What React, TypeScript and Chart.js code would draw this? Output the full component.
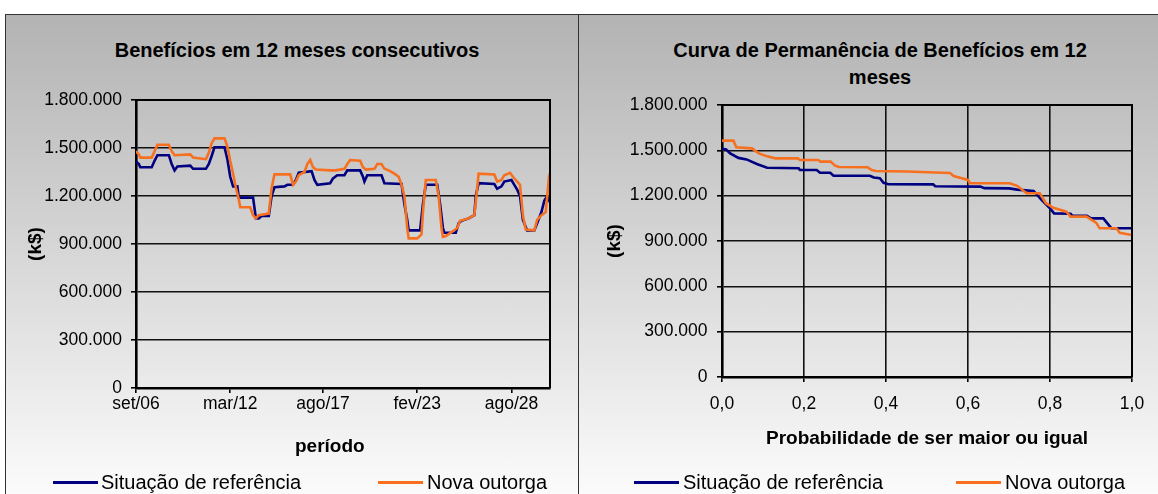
import React, { useEffect, useRef } from 'react';
import { Chart, registerables } from 'chart.js';

Chart.register(...registerables);

const FONT = '"Liberation Sans", Arial, Helvetica, sans-serif';

// ---------- Left chart: Benefícios em 12 meses consecutivos ----------
const periodTickMonths = [0, 66, 131, 197, 263];
const periodTickLabels = ['set/06', 'mar/12', 'ago/17', 'fev/23', 'ago/28'];
const periodLastMonth = 290;

const refMonths = [0, 2, 3, 11, 13, 15, 23, 25, 27, 29, 38, 40, 49, 51, 53, 55, 62, 64, 66, 68, 71, 72, 82, 84, 86, 88, 93, 95, 97, 104, 106, 110, 112, 114, 123, 125, 127, 136, 138, 141, 146, 148, 157, 159, 160, 162, 172, 174, 186, 188, 190, 191, 199, 201, 203, 211, 213, 215, 216, 224, 226, 228, 233, 237, 238, 240, 251, 253, 256, 258, 263, 265, 267, 269, 271, 274, 279, 281, 284, 286, 288, 290];
const refBenefits = [1415000, 1400000, 1380000, 1380000, 1420000, 1455000, 1455000, 1400000, 1360000, 1385000, 1390000, 1370000, 1370000, 1400000, 1450000, 1505000, 1505000, 1430000, 1320000, 1260000, 1260000, 1190000, 1190000, 1060000, 1060000, 1075000, 1075000, 1200000, 1255000, 1260000, 1270000, 1270000, 1300000, 1345000, 1355000, 1300000, 1270000, 1280000, 1310000, 1330000, 1330000, 1360000, 1360000, 1320000, 1290000, 1330000, 1330000, 1280000, 1275000, 1150000, 1050000, 985000, 985000, 1150000, 1270000, 1270000, 1150000, 1000000, 970000, 970000, 1030000, 1045000, 1060000, 1080000, 1200000, 1280000, 1275000, 1245000, 1260000, 1290000, 1300000, 1270000, 1240000, 1200000, 1050000, 985000, 985000, 1030000, 1100000, 1170000, 1200000, 1160000];

const novaMonths = [0, 2, 3, 11, 13, 15, 23, 25, 27, 38, 40, 49, 51, 53, 55, 62, 64, 66, 68, 70, 72, 73, 80, 82, 84, 86, 93, 95, 97, 108, 110, 112, 114, 118, 120, 122, 124, 126, 136, 140, 146, 148, 150, 157, 159, 161, 167, 169, 172, 174, 177, 181, 184, 186, 188, 190, 191, 197, 200, 201, 203, 210, 212, 214, 215, 217, 222, 225, 227, 233, 237, 239, 240, 251, 253, 256, 258, 262, 264, 266, 269, 271, 273, 279, 281, 284, 287, 289, 290];
const novaBenefits = [1480000, 1460000, 1440000, 1440000, 1480000, 1520000, 1520000, 1480000, 1455000, 1460000, 1440000, 1430000, 1470000, 1530000, 1560000, 1560000, 1510000, 1420000, 1340000, 1250000, 1180000, 1130000, 1130000, 1080000, 1060000, 1080000, 1090000, 1250000, 1335000, 1335000, 1270000, 1290000, 1330000, 1350000, 1400000, 1425000, 1380000, 1365000, 1360000, 1360000, 1370000, 1400000, 1425000, 1420000, 1380000, 1365000, 1370000, 1400000, 1400000, 1370000, 1360000, 1340000, 1320000, 1270000, 1200000, 1000000, 935000, 935000, 960000, 1100000, 1300000, 1300000, 1200000, 1000000, 945000, 950000, 980000, 1000000, 1045000, 1060000, 1080000, 1250000, 1340000, 1335000, 1290000, 1300000, 1330000, 1345000, 1320000, 1300000, 1270000, 1080000, 990000, 985000, 1050000, 1080000, 1100000, 1290000, 1240000];

// ---------- Right chart: Curva de Permanência ----------
const refProb = [0, 0.01, 0.02, 0.04, 0.06, 0.085, 0.11, 0.187, 0.19, 0.231, 0.239, 0.264, 0.272, 0.361, 0.37, 0.385, 0.394, 0.406, 0.515, 0.52, 0.63, 0.64, 0.7, 0.72, 0.76, 0.78, 0.8, 0.81, 0.85, 0.855, 0.89, 0.9, 0.93, 0.945, 0.95, 1.0];
const refPerm = [1510000, 1505000, 1480000, 1450000, 1440000, 1410000, 1385000, 1381000, 1370000, 1370000, 1352000, 1352000, 1332000, 1332000, 1320000, 1315000, 1285000, 1276000, 1275000, 1262000, 1260000, 1250000, 1248000, 1240000, 1231000, 1170000, 1116000, 1083000, 1080000, 1066000, 1066000, 1050000, 1050000, 1000000, 984000, 984000];

const novaProb = [0, 0.028, 0.035, 0.073, 0.09, 0.11, 0.13, 0.185, 0.19, 0.235, 0.24, 0.265, 0.275, 0.285, 0.355, 0.365, 0.375, 0.45, 0.556, 0.565, 0.6, 0.605, 0.702, 0.72, 0.743, 0.775, 0.79, 0.808, 0.84, 0.85, 0.889, 0.913, 0.921, 0.962, 0.97, 1.0];
const novaPerm = [1564000, 1564000, 1520000, 1513000, 1480000, 1460000, 1447000, 1447000, 1436000, 1436000, 1425000, 1425000, 1400000, 1390000, 1388000, 1370000, 1363000, 1360000, 1350000, 1330000, 1304000, 1282000, 1282000, 1265000, 1216000, 1216000, 1150000, 1120000, 1094000, 1061000, 1061000, 1020000, 984000, 984000, 955000, 940000];

// ---------- shared ----------
const valueMax = 1800000;
const valueStep = 300000;
const probStep = 0.2;
const seriesNames = ['Situação de referência', 'Nova outorga'];
const seriesColors = ['#000080', '#f7701f'];

const fmtThousands = (v: number) => String(Math.round(v)).replace(/\B(?=(\d{3})+(?!\d))/g, '.');
const fmtProb = (v: number) => Number(v).toFixed(1).replace('.', ',');

const framePlugin = {
  id: 'plotFrame',
  afterDatasetsDraw(chart: any) {
    const { ctx, chartArea: a } = chart;
    ctx.save();
    ctx.strokeStyle = '#000';
    ctx.lineWidth = 2;
    ctx.beginPath();
    ctx.moveTo(a.left, a.top);
    ctx.lineTo(a.right, a.top);
    ctx.lineTo(a.right, a.bottom);
    ctx.stroke();
    ctx.restore();
  },
};

function zip(xs: number[], ys: number[]) {
  return xs.map((x, i) => ({ x, y: ys[i] }));
}

interface PanelCfg {
  w: number;
  h: number;
  padTop: number;
  padRight: number;
  yWidth: number;
  xHeight: number;
  xTitle: string;
  xTitlePad: number;
  yTitlePad: number;
  xTickPad: number;
  yTickPad: number;
  xGridOnArea: boolean;
  xScale: any;
  data: { x: number; y: number }[][];
}

function makeConfig(c: PanelCfg): any {
  const tickFont = { family: FONT, size: 17.5 };
  const titleFont = { family: FONT, size: 19, weight: 'bold' as const };
  return {
    type: 'line',
    data: {
      datasets: c.data.map((pts, i) => ({
        label: seriesNames[i],
        data: pts,
        borderColor: seriesColors[i],
        backgroundColor: seriesColors[i],
        borderWidth: 2.6,
        pointRadius: 0,
        tension: 0,
        fill: false,
        order: i === 0 ? 1 : 0,
      })),
    },
    options: {
      responsive: false,
      animation: false,
      events: [],
      parsing: false,
      layout: { padding: { left: 0, top: c.padTop, right: c.padRight, bottom: 0 } },
      plugins: { legend: { display: false }, title: { display: false }, tooltip: { enabled: false } },
      scales: {
        x: {
          ...c.xScale,
          afterFit: (s: any) => { s.height = c.xHeight; },
          ticks: { ...(c.xScale.ticks || {}), font: tickFont, color: '#000', padding: c.xTickPad, maxRotation: 0, autoSkip: false },
          grid: { drawOnChartArea: c.xGridOnArea, color: '#111', lineWidth: 1.6, drawTicks: true, tickLength: 5, tickColor: '#000', tickWidth: 1.6 },
          border: { display: true, color: '#000', width: 2.6 },
          title: { display: true, text: c.xTitle, font: titleFont, color: '#000', padding: { top: 0, bottom: c.xTitlePad } },
        },
        y: {
          type: 'linear',
          min: 0,
          max: valueMax,
          afterFit: (s: any) => { s.width = c.yWidth; },
          ticks: { stepSize: valueStep, callback: (v: any) => fmtThousands(Number(v)), font: tickFont, color: '#000', padding: c.yTickPad },
          grid: { color: '#111', lineWidth: 1.6, drawTicks: true, tickLength: 5, tickColor: '#000', tickWidth: 1.6 },
          border: { display: true, color: '#000', width: 2.6 },
          title: { display: true, text: '(k$)', font: titleFont, color: '#000', padding: { top: c.yTitlePad, bottom: 0 } },
        },
      },
    },
    plugins: [framePlugin],
  };
}

function ChartCanvas({ cfg, left, top }: { cfg: PanelCfg; left: number; top: number }) {
  const ref = useRef<HTMLCanvasElement | null>(null);
  useEffect(() => {
    if (!ref.current) return;
    const chart = new Chart(ref.current, makeConfig(cfg));
    return () => chart.destroy();
  }, []);
  return (
    <canvas
      ref={ref}
      width={cfg.w}
      height={cfg.h}
      style={{ position: 'absolute', left, top, width: cfg.w, height: cfg.h }}
    />
  );
}

function LegendRow({ lineX, textX, color, text }: { lineX: number; textX: number; color: string; text: string }) {
  return (
    <>
      <div style={{ position: 'absolute', left: lineX, top: 481, width: 45, height: 3, background: color }} />
      <div style={{ position: 'absolute', left: textX, top: 472, fontSize: 20, lineHeight: '20px', whiteSpace: 'nowrap', color: '#000' }}>{text}</div>
    </>
  );
}

const leftCfg: PanelCfg = {
  w: 573,
  h: 480,
  padTop: 86,
  padRight: 28,
  yWidth: 131,
  xHeight: 106,
  // trailing no-break spaces move the centred axis title left, as in the reference
  xTitle: 'período\u00A0\u00A0\u00A0\u00A0\u00A0',
  xTitlePad: 36,
  yTitlePad: 19.6,
  xTickPad: 1,
  yTickPad: 9,
  xGridOnArea: false,
  xScale: {
    type: 'linear',
    min: 0,
    max: periodLastMonth,
    afterBuildTicks: (s: any) => { s.ticks = periodTickMonths.map((v) => ({ value: v })); },
    ticks: { callback: (v: any) => { const i = periodTickMonths.indexOf(Number(v)); return i >= 0 ? periodTickLabels[i] : ''; } },
  },
  data: [zip(refMonths, refBenefits), zip(novaMonths, novaBenefits)],
};

const rightCfg: PanelCfg = {
  w: 580,
  h: 480,
  padTop: 91,
  padRight: 26,
  yWidth: 144,
  xHeight: 117,
  xTitle: 'Probabilidade de ser maior ou igual',
  xTitlePad: 44,
  yTitlePad: 25.3,
  xTickPad: 11.5,
  yTickPad: 9.5,
  xGridOnArea: true,
  xScale: {
    type: 'linear',
    min: 0,
    max: 1,
    ticks: { stepSize: probStep, callback: (v: any) => fmtProb(Number(v)) },
  },
  data: [zip(refProb, refPerm), zip(novaProb, novaPerm)],
};

export default function App() {
  useEffect(() => {
    document.body.style.margin = '0';
  }, []);
  return (
    <div style={{ position: 'relative', width: 1158, height: 494, overflow: 'hidden', background: '#fff', fontFamily: FONT, color: '#000' }}>
      <div style={{ position: 'absolute', left: 5, top: 14, width: 1160, height: 480, background: 'linear-gradient(#b3b3b3, #fbfbfb)', borderTop: '1px solid #333', borderLeft: '1px solid #333' }} />
      <div style={{ position: 'absolute', left: 578, top: 14, width: 1, height: 480, background: '#333' }} />

      <div style={{ position: 'absolute', left: 297 - 300, top: 40, width: 600, textAlign: 'center', fontSize: 20, lineHeight: '20px', fontWeight: 'bold', whiteSpace: 'nowrap' }}>
        Benefícios em 12 meses consecutivos
      </div>
      <div style={{ position: 'absolute', left: 880 - 300, top: 36.5, width: 600, textAlign: 'center', fontSize: 20, lineHeight: '27px', fontWeight: 'bold', whiteSpace: 'nowrap' }}>
        Curva de Permanência de Benefícios em 12
        <br />
        meses
      </div>

      <ChartCanvas cfg={leftCfg} left={5} top={14} />
      <ChartCanvas cfg={rightCfg} left={578} top={14} />

      <LegendRow lineX={53} textX={101} color={seriesColors[0]} text={seriesNames[0]} />
      <LegendRow lineX={378} textX={427} color={seriesColors[1]} text={seriesNames[1]} />
      <LegendRow lineX={634} textX={683} color={seriesColors[0]} text={seriesNames[0]} />
      <LegendRow lineX={956} textX={1005} color={seriesColors[1]} text={seriesNames[1]} />
    </div>
  );
}
